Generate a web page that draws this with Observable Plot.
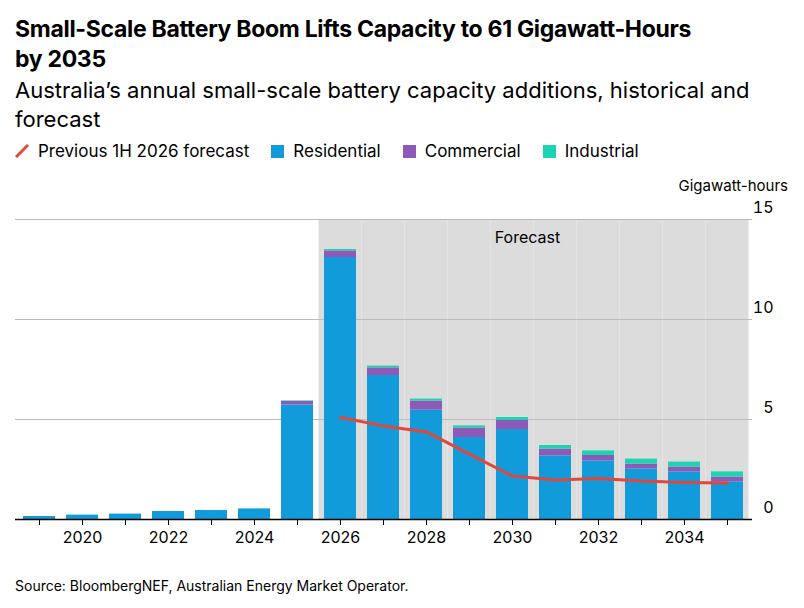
<!DOCTYPE html>
<html><head><meta charset="utf-8">
<script src="https://cdn.jsdelivr.net/npm/d3@7"></script>
<script src="https://cdn.jsdelivr.net/npm/@observablehq/plot@0.6"></script>
<style>
body{margin:0;padding:14px 0 0 15px;font-family:"Inter","Liberation Sans",sans-serif;background:#fff;color:#000;width:789px}
h1{font-size:23px;line-height:30px;margin:0 0 2px 0;font-weight:700;letter-spacing:-0.3px;width:775px}
h2{font-size:22px;line-height:29px;margin:0 0 4px 0;font-weight:400;letter-spacing:0px;width:760px}
.legend{display:flex;gap:22px;font-size:17px;align-items:center;height:26px}
.legend span{display:inline-flex;align-items:center;gap:9px}
.sw{width:13px;height:13px;display:inline-block}
.unit{text-align:right;font-size:15px;margin:12px 16px 0 0}
.src{font-size:14px;margin-top:24px}
</style></head><body>
<h1>Small-Scale Battery Boom Lifts Capacity to 61 Gigawatt-Hours<br>by 2035</h1>
<h2>Australia’s annual small-scale battery capacity additions, historical and forecast</h2>
<div class="legend">
<span><svg width="14" height="14"><line x1="1" y1="13" x2="13" y2="1" stroke="#e0483e" stroke-width="3"/></svg>Previous 1H 2026 forecast</span>
<span><i class="sw" style="background:#129bdb"></i>Residential</span>
<span><i class="sw" style="background:#8e5ab8"></i>Commercial</span>
<span><i class="sw" style="background:#1ed3b0"></i>Industrial</span>
</div>
<div class="unit">Gigawatt-hours</div>
<div id="chart"></div>
<div class="src">Source: BloombergNEF, Australian Energy Market Operator.</div>
<script>
const years = d3.range(2019, 2036);
const residential = [0.15, 0.22, 0.27, 0.4, 0.45, 0.53, 5.72, 13.1, 7.2, 5.47, 4.1, 4.5, 3.18, 2.93, 2.53, 2.38, 1.88];
const commercial = [0, 0, 0, 0, 0, 0, 0.18, 0.33, 0.38, 0.45, 0.47, 0.45, 0.34, 0.27, 0.24, 0.24, 0.24];
const industrial = [0, 0, 0, 0, 0, 0, 0.03, 0.07, 0.09, 0.1, 0.11, 0.15, 0.18, 0.23, 0.25, 0.25, 0.26];
const prevYears = d3.range(2026, 2036);
const prevForecast = [5.1, 4.68, 4.38, 3.27, 2.17, 1.98, 2.05, 1.92, 1.85, 1.82];
const forecastYears = d3.range(2026, 2036);

const rows = [];
years.forEach((y, i) => {
  rows.push({year: y, type: "Residential", v: residential[i]});
  rows.push({year: y, type: "Commercial", v: commercial[i]});
  rows.push({year: y, type: "Industrial", v: industrial[i]});
});
const prev = prevYears.map((y, i) => ({year: y, v: prevForecast[i]}));

const chart = Plot.plot({
  width: 789, height: 358,
  marginLeft: 0, marginRight: 52, marginTop: 24, marginBottom: 34,
  style: {fontFamily: "Inter, Liberation Sans, sans-serif", fontSize: "15px", color: "#000"},
  x: {type: "band", domain: years, paddingInner: 0.25, paddingOuter: 0.125, label: null},
  y: {domain: [0, 15], label: null},
  color: {domain: ["Residential", "Commercial", "Industrial"], range: ["#129bdb", "#8e5ab8", "#1ed3b0"]},
  marks: [
    Plot.barY(forecastYears, {x: d => d, y: 15, fill: "#dcdcdc", insetLeft: -5.5, insetRight: -5.5}),
    Plot.gridY([5, 10, 15], {stroke: "#bbb", strokeOpacity: 1, strokeWidth: 1}),
    Plot.text(["Forecast"], {x: 2030, y: 15, dy: 18, text: d => d, fontSize: 16, dx: 15}),
    Plot.barY(rows, {x: "year", y: "v", fill: "type", order: ["Residential", "Commercial", "Industrial"]}),
    Plot.line(prev, {x: "year", y: "v", stroke: "#e0483e", strokeWidth: 3}),
    Plot.axisY({anchor: "right", ticks: [0, 5, 10, 15], tickSize: 0, tickPadding: 21, dy: -12, textAnchor: "end", fontSize: 16}),
    Plot.axisX({tickSize: 6, tickFormat: d => d % 2 === 0 ? String(d) : "", tickPadding: 6, fontSize: 16}),
    Plot.ruleY([0], {stroke: "#000", strokeWidth: 1.5})
  ]
});
document.getElementById("chart").append(chart);
</script>
</body></html>
